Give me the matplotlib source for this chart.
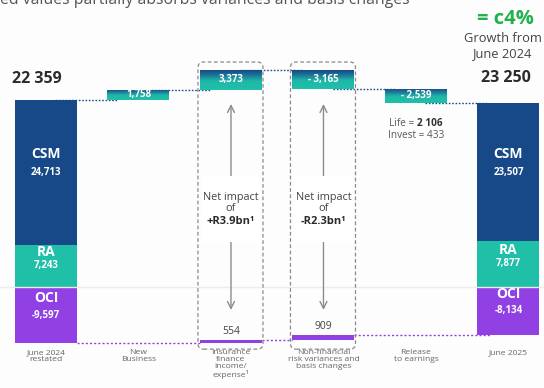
import numpy as np
import matplotlib
matplotlib.use("Agg")
import matplotlib.pyplot as plt
from matplotlib.patches import FancyBboxPatch, Rectangle
from matplotlib.colors import LinearSegmentedColormap
from matplotlib.transforms import blended_transform_factory

plt.rcParams['font.family'] = ['Open Sans', 'DejaVu Sans']

# ---- data -------------------------------------------------------------
categories = ["June 2024\nrestated", "New\nBusiness",
              "Insurance\nfinance\nincome/\nexpense\u00b9",
              "Non-financial\nrisk variances and\nbasis changes",
              "Release\nto earnings", "June 2025"]

start_parts = {"CSM": 24713, "RA": 7243, "OCI": -9597}
end_parts = {"CSM": 23507, "RA": 7877, "OCI": -8134}
start_part_labels = {"CSM": "24,713", "RA": "7,243", "OCI": "-9,597"}
end_part_labels = {"CSM": "23,507", "RA": "7,877", "OCI": "-8,134"}
start_total_label = "22 359"
end_total_label = "23 250"

# movements of CSM + RA (upper edge), categories 1..4
upper_moves = [1758, 3373, -3165, -2539]
upper_labels = ["1,758", "3,373", "- 3,165", "- 2,539"]
# movements of OCI (lower edge), categories 2 and 3
oci_moves = [554, 909]
oci_labels = ["554", "909"]
net_impacts = ["+R3.9bn\u00b9", "-R2.3bn\u00b9"]

release_split = [("Life = ", "2 106"), ("Invest = ", "433")]

# ---- style -------------------------------------------------------------
BG = "#fdfdfd"
CSM_C = "#174887"
RA_C = "#1fbfa8"
OCI_C = "#9141e3"
GREEN = "#21b24e"
GREY_TXT = "#5a5a5a"
DARK_TXT = "#2b2b2b"
W = 0.67

W_PX, H_PX = 544, 388
fig = plt.figure(figsize=(W_PX / 100, H_PX / 100), dpi=100, facecolor=BG)
ax = fig.add_axes([0, 0, 1, 1])
ax.set_facecolor(BG)
ax.axis("off")
XLIM = (-0.497, 5.384)
YLIM = (-17265, 49060)
PX_PER_UNIT_X = W_PX / (XLIM[1] - XLIM[0])
PX_PER_UNIT_Y = H_PX / (YLIM[1] - YLIM[0])


def fy(py):
    return 1 - py / H_PX


bt = blended_transform_factory(ax.transData, ax.transAxes)

grad_cmap = LinearSegmentedColormap.from_list(
    "hdr", [(0.0, "#1fc0aa"), (0.45, "#1fb7a7"), (0.75, "#1a7598"), (1.0, "#1a4686")])

# zero line
ax.axhline(0, color="#ececec", lw=1.0, zorder=4)


def stacked(x, parts, labels):
    ra, csm, oci = parts["RA"], parts["CSM"], parts["OCI"]
    ax.bar(x, ra, bottom=0, width=W, color=RA_C, zorder=3, lw=0)
    ax.bar(x, csm, bottom=ra, width=W, color=CSM_C, zorder=3, lw=0)
    ax.bar(x, oci, bottom=0, width=W, color=OCI_C, zorder=3, lw=0)
    segs = [("CSM", ra + csm / 2, 18), ("RA", ra / 2, 14), ("OCI", oci / 2, 17)]
    for name, yc, off in segs:
        ax.annotate(name, (x, yc), xytext=(0, off), textcoords="offset pixels",
                    ha="center", va="center", color="white", fontsize=10,
                    fontweight="bold", zorder=6)
        ax.annotate(labels[name], (x, yc), ha="center", va="center",
                    color="white", fontsize=7, fontweight="bold", zorder=6)
    return ra + csm, oci


top0, bot0 = stacked(0, start_parts, start_part_labels)
topN, botN = stacked(5, end_parts, end_part_labels)

ax.annotate(start_total_label, (-0.1, top0), xytext=(0, 21),
            textcoords="offset pixels", ha="center", va="center",
            fontsize=11.5, fontweight="bold", color=DARK_TXT)
ax.annotate(end_total_label, (5 - 0.03, topN), xytext=(0, 25),
            textcoords="offset pixels", ha="center", va="center",
            fontsize=11.5, fontweight="bold", color=DARK_TXT)

# upper movements (gradient header bars)
level = top0
levels = [level]
for k, (mv, lab) in enumerate(zip(upper_moves, upper_labels)):
    x = k + 1
    lo, hi = min(level, level + mv), max(level, level + mv)
    bar = ax.bar(x, hi - lo, bottom=lo, width=W, color="none", lw=0, zorder=3)[0]
    grad = np.linspace(1, 0, 64).reshape(-1, 1)
    im = ax.imshow(grad, extent=[x - W / 2, x + W / 2, lo, hi], aspect="auto",
                   cmap=grad_cmap, vmin=0, vmax=1, origin="upper", zorder=3)
    im.set_clip_path(bar)
    ax.text(x, (lo + hi) / 2, lab, ha="center", va="center", color="white",
            fontsize=7, fontweight="bold", zorder=6)
    level += mv
    levels.append(level)

# dotted connectors along the upper edge
for k in range(5):
    lv = levels[k]
    ax.plot([k + 0.1, k + 0.78], [lv, lv], color="#1d4f8f", lw=1.0,
            ls=(0, (1.2, 1.2)), zorder=2)

# lower (OCI) movements
oci_level = bot0
oci_levels = [oci_level]
for k, (mv, lab) in enumerate(zip(oci_moves, oci_labels)):
    x = k + 2
    ax.bar(x, mv, bottom=oci_level, width=W, color=OCI_C, lw=0, zorder=3)
    ax.annotate(lab, (x, oci_level + mv), xytext=(0, 3),
                textcoords="offset pixels", ha="center", va="bottom",
                fontsize=7.5, color="#444444", zorder=6)
    oci_level += mv
    oci_levels.append(oci_level)

ax.plot([0 + W / 2, 2 - W / 2], [oci_levels[0]] * 2, color=OCI_C, lw=1.0,
        ls=(0, (1.5, 1.5)), zorder=2)
ax.plot([2 + W / 2, 3 - W / 2], [oci_levels[1]] * 2, color=OCI_C, lw=1.0,
        ls=(0, (1.5, 1.5)), zorder=2)
ax.plot([3 + W / 2, 5 - 0.2], [oci_levels[2]] * 2, color=OCI_C, lw=1.0,
        ls=(0, (1.5, 1.5)), zorder=2)

# dashed boxes with net impact arrows
box_top = max(levels) + 8 / PX_PER_UNIT_Y
box_bot = min(oci_levels) - 6 / PX_PER_UNIT_Y
aspect = PX_PER_UNIT_X / PX_PER_UNIT_Y
for k, txt in enumerate(net_impacts):
    x = k + 2
    box = FancyBboxPatch((x - 0.357, box_bot), 0.703, box_top - box_bot,
                         boxstyle="round,pad=0,rounding_size=0.06",
                         mutation_aspect=aspect, fill=False, ec="#8a8a8a",
                         lw=0.9, ls=(0, (3, 2)), zorder=5)
    ax.add_patch(box)
    ax.annotate("", xy=(x, fy(104)), xytext=(x, fy(310)), xycoords=bt,
                textcoords=bt,
                arrowprops=dict(arrowstyle="<->,head_length=0.5,head_width=0.25",
                                color="#8c8c8c", lw=1.0, shrinkA=0, shrinkB=0),
                zorder=4)
    ax.add_patch(Rectangle((x - 0.31, fy(242)), 0.62, fy(176) - fy(242),
                           transform=bt, fc="white", ec="none", zorder=5))
    ax.text(x, fy(203), "Net impact\nof", transform=bt, ha="center",
            va="center", fontsize=7.8, color="#444444", linespacing=1.0, zorder=6)
    ax.text(x, fy(221), txt, transform=bt, ha="center", va="center",
            fontsize=8, fontweight="bold", color="#2b2b2b", zorder=6)

# release breakdown
(l1a, l1b), (l2a, l2b) = release_split
ax.text(4.01, fy(123), l1a, transform=bt, ha="right", va="center",
        fontsize=7.2, color=GREY_TXT)
ax.text(4.01, fy(123), l1b, transform=bt, ha="left", va="center",
        fontsize=7.2, color="#333333", fontweight="bold")
ax.text(4.0, fy(136), l2a + l2b, transform=bt, ha="center", va="center",
        fontsize=7.2, color=GREY_TXT)

# category labels
for i, c in enumerate(categories):
    ax.text(i, fy(349), c, transform=bt, ha="center", va="top", fontsize=6.1,
            color="#666666", linespacing=1.02)

# headline texts
ax.text(505 / W_PX, fy(19), "= c4%", transform=ax.transAxes, ha="center",
        va="center", fontsize=14.5, fontweight="bold", color=GREEN)
ax.text(503 / W_PX, fy(46), "Growth from\nJune 2024", transform=ax.transAxes,
        ha="center", va="center", fontsize=9.3, color="#444444", linespacing=1.15)
ax.text(0, fy(4.5), "ed values partially absorbs variances and basis changes",
        transform=ax.transAxes, ha="left", va="baseline", fontsize=11.4,
        color="#555555")

ax.set_xlim(*XLIM)
ax.set_ylim(*YLIM)
fig.savefig("out.png", dpi=100, facecolor=BG)
